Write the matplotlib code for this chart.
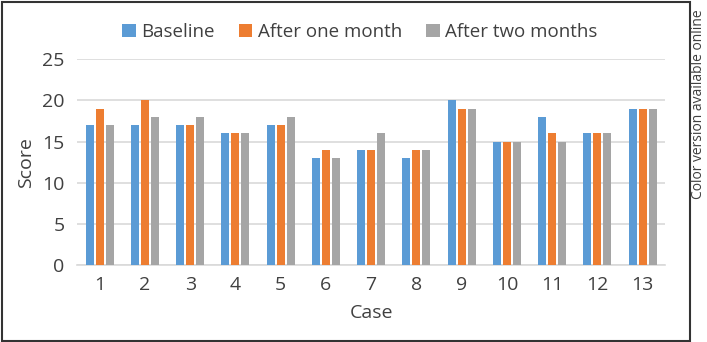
import matplotlib
matplotlib.use("Agg")
import matplotlib.pyplot as plt
import numpy as np
from matplotlib.patches import Rectangle

plt.rcParams['font.family'] = ['Open Sans', 'DejaVu Sans']

cases = ["1", "2", "3", "4", "5", "6", "7", "8", "9", "10", "11", "12", "13"]
baseline = [17, 17, 17, 16, 17, 13, 14, 13, 20, 15, 18, 16, 19]
one_month = [19, 20, 17, 16, 17, 14, 14, 14, 19, 15, 16, 16, 19]
two_months = [17, 18, 18, 16, 18, 13, 16, 14, 19, 15, 15, 16, 19]

series = [("Baseline", baseline, "#5b9bd5"),
          ("After one month", one_month, "#ed7d31"),
          ("After two months", two_months, "#a5a5a5")]

fig = plt.figure(figsize=(7.07, 3.42), dpi=100)
ax = fig.add_axes([0.109, 0.225, 0.832, 0.602])

x = np.arange(len(cases))
w = 0.177
step = 0.221
for i, (name, vals, col) in enumerate(series):
    ax.bar(x + (i - 1) * step, vals, width=w, color=col, label=name, zorder=3)

ax.set_xlim(-0.5, len(cases) - 0.5)
ax.set_ylim(0, 25)
ax.set_yticks(range(0, 26, 5))
ax.set_xticks(x)
ax.set_xticklabels(cases)
ax.grid(axis="y", color="#d9d9d9", linewidth=1.2, zorder=0)
for s in ["top", "right", "left"]:
    ax.spines[s].set_visible(False)
ax.spines["bottom"].set_color("#d9d9d9")
ax.spines["bottom"].set_linewidth(1.2)
ax.tick_params(length=0, labelsize=14, colors="#404040")
ax.tick_params(axis="x", pad=8)
ax.tick_params(axis="y", pad=9)
ax.set_xlabel("Case", fontsize=14, color="#404040", labelpad=7)
ax.set_ylabel("Score", fontsize=14, color="#404040", labelpad=5)

ax.legend(loc="center", bbox_to_anchor=(360 / 707, 1 - 32 / 342),
          bbox_transform=fig.transFigure, ncol=3, frameon=False,
          fontsize=13.5, handlelength=0.7, handleheight=0.7,
          handletextpad=0.3, columnspacing=1.3, labelcolor="#404040")

fig.patches.append(Rectangle((1.5 / 707, 1.5 / 342), 688 / 707, 339 / 342,
                             transform=fig.transFigure, fill=False,
                             edgecolor="#333333", linewidth=1.5))
fig.text(698 / 707, 1 - 104 / 342, "Color version available online",
         rotation=90, ha="center", va="center", fontsize=10, color="#404040")

fig.savefig("out.png", dpi=100)
